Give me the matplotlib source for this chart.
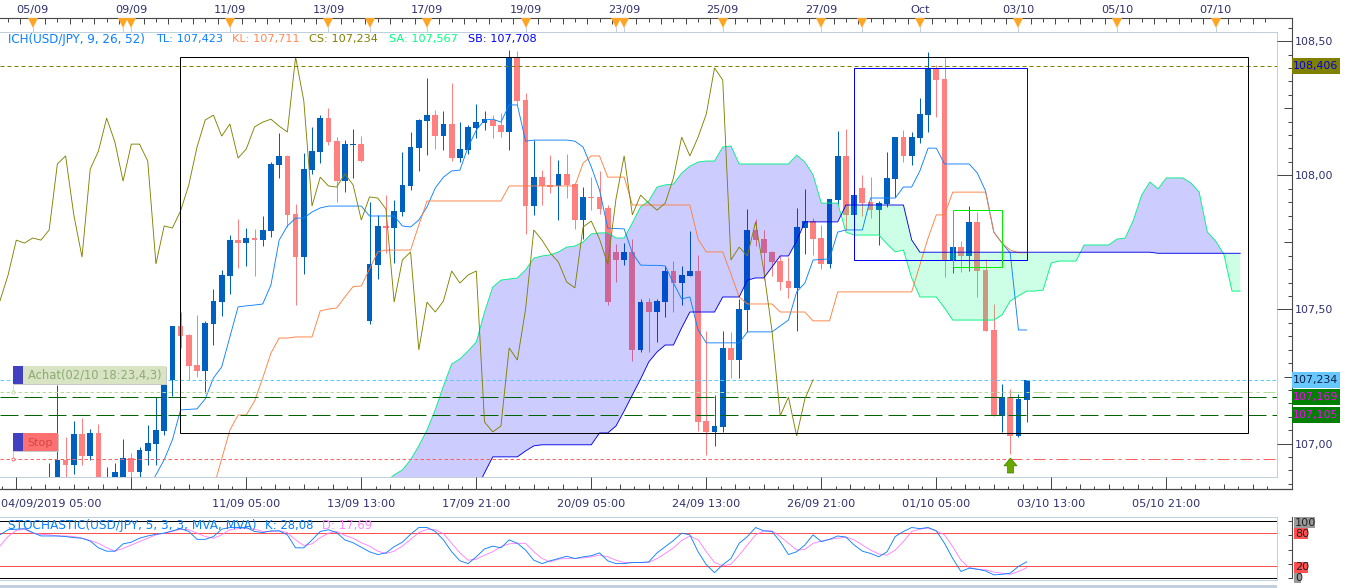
import numpy as np
import matplotlib
matplotlib.use("Agg")
import matplotlib.pyplot as plt
from matplotlib.patches import Rectangle

# ---- candles: one value per 4h bar, first bar index = FIRST_BAR
FIRST_BAR = -24
RISING = ("bbpbpbpbbb" "pbbbbbpppb" "bbbpbpbbbp" "pbbbppbbpb"
          "bpbbbbbpbp" "bbbbppbppb" "ppbppbpppp" "bpbpbbpbbp"
          "pbbpbbpppp" "pbbppbbpbp" "pbbbpbbbpp" "bpbpppbpbb")
HIGH = [106.927,107.218,107.024,107.084,107.095,107.054,107.073,106.912,106.927,107.017,
        106.965,106.987,107.069,107.173,107.230,107.438,107.490,107.408,107.479,107.457,
        107.576,107.647,107.777,107.837,107.803,107.800,107.848,108.049,108.157,108.075,
        107.893,108.083,108.180,108.224,108.250,108.142,108.131,108.172,108.146,107.900,
        107.852,107.926,107.907,108.087,108.161,108.209,108.362,108.243,108.239,108.344,
        108.198,108.187,108.265,108.239,108.224,108.232,108.467,108.463,108.306,108.131,
        108.019,108.075,108.057,108.079,107.971,107.956,107.993,108.016,107.889,107.744,
        107.747,107.762,107.539,107.542,107.539,107.662,107.680,107.662,107.792,107.703,
        107.419,107.181,107.419,107.416,107.539,107.874,107.837,107.796,107.718,107.703,
        107.695,107.878,107.949,107.840,107.814,107.911,108.165,108.172,107.960,108.001,
        107.993,107.904,108.087,108.142,108.168,108.161,108.288,108.459,108.411,108.441,
        107.773,107.755,107.885,107.863,107.688,107.520,107.222,107.203,107.185,107.237]
BODY_TOP = [106.87,106.939,106.939,107.035,107.035,107.039,107.039,106.86,106.894,106.946,
        106.946,106.976,107.002,107.050,107.226,107.438,107.438,107.404,107.293,107.449,
        107.531,107.628,107.758,107.758,107.766,107.766,107.796,108.042,108.072,108.072,
        107.855,108.023,108.090,108.213,108.213,108.127,108.116,108.116,108.116,107.669,
        107.811,107.811,107.867,107.964,108.105,108.206,108.224,108.224,108.191,108.191,
        108.098,108.180,108.198,108.209,108.206,108.187,108.441,108.441,108.280,107.993,
        107.993,107.964,108.005,108.005,107.967,107.919,107.919,107.919,107.878,107.714,
        107.714,107.714,107.527,107.527,107.531,107.643,107.643,107.628,107.643,107.643,
        107.084,107.065,107.356,107.356,107.501,107.796,107.796,107.762,107.714,107.680,
        107.606,107.807,107.829,107.829,107.766,107.911,108.072,108.072,107.926,107.952,
        107.900,107.896,107.990,108.142,108.142,108.142,108.228,108.400,108.400,108.359,
        107.732,107.732,107.826,107.826,107.647,107.423,107.173,107.173,107.166,107.237]
BODY_BOTTOM = [106.86,106.80,106.920,106.920,106.953,106.953,106.80,106.82,106.84,106.84,
        106.894,106.894,106.972,106.998,107.047,107.237,107.401,107.289,107.270,107.270,
        107.445,107.527,107.624,107.747,107.747,107.758,107.758,107.792,108.038,107.852,
        107.695,107.695,108.019,108.087,108.124,107.978,107.978,108.113,108.053,107.457,
        107.665,107.803,107.803,107.863,107.960,108.101,108.202,108.146,108.146,108.064,
        108.064,108.094,108.176,108.195,108.183,108.161,108.161,108.277,107.885,107.885,
        107.960,107.956,107.960,107.964,107.833,107.833,107.915,107.874,107.527,107.684,
        107.684,107.349,107.349,107.490,107.490,107.527,107.598,107.598,107.624,107.080,
        107.043,107.043,107.062,107.311,107.311,107.498,107.758,107.710,107.676,107.602,
        107.580,107.580,107.803,107.762,107.669,107.669,107.907,107.852,107.852,107.896,
        107.870,107.870,107.893,107.986,108.072,108.072,108.139,108.224,108.355,107.684,
        107.684,107.699,107.699,107.643,107.419,107.103,107.103,107.028,107.028,107.162]
LOW = [106.85,106.78,106.87,106.886,106.920,106.939,106.78,106.80,106.82,106.82,
        106.87,106.87,106.920,106.920,107.032,107.177,107.356,107.237,107.248,107.188,
        107.367,107.475,107.557,107.654,107.662,107.624,107.736,107.770,107.990,107.807,
        107.516,107.632,108.005,108.045,108.113,107.900,107.937,107.990,108.049,107.445,
        107.613,107.710,107.673,107.848,107.945,108.016,108.075,108.098,108.094,108.053,
        108.049,108.079,108.139,108.168,108.139,108.142,108.094,108.262,107.781,107.852,
        107.889,107.934,107.833,107.915,107.800,107.762,107.870,107.855,107.516,107.602,
        107.665,107.308,107.341,107.341,107.378,107.472,107.490,107.516,107.624,107.047,
        106.957,106.991,107.043,107.244,107.244,107.416,107.736,107.609,107.624,107.572,
        107.542,107.419,107.706,107.703,107.650,107.654,107.893,107.796,107.770,107.848,
        107.840,107.740,107.882,107.919,108.049,108.038,108.120,108.161,108.217,107.621,
        107.636,107.639,107.643,107.546,107.419,107.103,107.043,106.961,107.024,107.080]

# ---- ichimoku
TL_FIRST = -12
TENKAN = [106.827,106.883,106.939,107.013,107.125,107.127,107.129,107.166,107.244,107.285,
          107.397,107.509,107.513,107.516,107.520,107.591,107.758,107.811,107.840,107.840,
          107.863,107.878,107.885,107.885,107.885,107.885,107.885,107.848,107.848,107.848,
          107.848,107.811,107.807,107.833,107.882,107.952,107.993,108.016,108.019,108.105,
          108.168,108.206,108.209,108.198,108.262,108.262,108.127,108.131,108.131,108.131,
          108.131,108.131,108.127,108.105,108.031,107.945,107.803,107.801,107.800,107.710,
          107.665,107.664,107.664,107.662,107.598,107.539,107.546,107.423,107.375,107.375,
          107.375,107.375,107.375,107.416,107.416,107.416,107.416,107.438,107.460,107.565,
          107.598,107.684,107.686,107.688,107.788,107.796,107.796,107.796,107.915,107.915,
          107.915,107.915,107.956,107.956,108.016,108.101,108.101,108.042,108.042,108.042,
          108.042,108.008,107.941,107.788,107.747,107.710,107.423,107.423]
KL_FIRST = -4
KIJUN = [106.834,106.942,107.050,107.106,107.106,107.158,107.244,107.337,107.393,107.393,
         107.397,107.397,107.397,107.494,107.501,107.505,107.546,107.585,107.587,107.650,
         107.714,107.721,107.721,107.721,107.721,107.814] + [107.904] * 10 + [107.960] * 9 + [
         108.045,108.072,108.072,107.993,107.993,107.993] + [107.889] * 8 + [
         107.762,107.714,107.714,107.714,107.632,107.546,107.520,107.520,107.520,107.520,
         107.490,107.490,107.490,107.490,107.457,107.457,107.457] + [107.565] * 10 + [
         107.665,107.766,107.852,107.852,107.937,107.937,107.937,107.937,107.937,
         107.788,107.747,107.721,107.711,107.711]
KUMO_FIRST = 17
SENKOU_A = [106.857,106.883,106.901,106.939,106.991,107.050,107.125,107.214,107.296,107.315,
            107.345,107.378,107.490,107.583,107.609,107.613,107.617,107.647,107.691,107.699,
            107.703,107.714,107.732,107.736,107.751,107.781,107.785,107.785,107.766,107.766,
            107.822,107.882,107.904,107.956,107.964,107.967,108.008,108.034,108.049,108.053,
            108.053,108.105,108.109,108.042,108.042,108.042,108.042,108.042,108.042,108.042,
            108.075,108.049,108.001,107.896,107.896,107.896,107.788,107.777,107.777,107.777,
            107.777,107.744,107.714,107.721,107.617,107.546,107.546,107.546,107.505,107.460,
            107.460,107.460,107.460,107.460,107.460,107.479,107.531,107.550,107.568,107.568,
            107.572,107.673,107.680,107.680,107.680,107.740,107.740,107.740,107.740,107.762,
            107.766,107.833,107.926,107.975,107.949,107.990,107.990,107.990,107.971,107.937,
            107.788,107.755,107.706,107.568,107.568]
SENKOU_B = [106.80] * 11 + [106.827,106.890,106.950,106.950,106.950,106.950,106.972,106.991] + [
            106.995] * 7 + [107.039,107.039,107.065,107.121,107.181,107.240,107.304,107.341,
            107.367,107.367,107.431,107.490,107.490,107.490,107.490,107.546,107.546,107.546,
            107.609,107.617,107.617,107.658,107.699,107.699,107.755] + [107.826] * 5 + [
            107.889] * 8 + [107.759] + [107.713] * 29 + [107.709] * 11
CHIKOU_SHIFT = 26

# ---- stochastic
STOCH_FIRST = -30
STOCH_K = [76,85,86,87,80,74,74,74,73,71,70,65,53,47,47,60,63,70,74,77,79,83,87,82,68,
           68,73,86,89,89,89,82,80,83,83,76,53,53,67,82,85,80,67,62,54,46,41,44,55,63,77,89,89,82,67,
           46,30,25,37,51,56,53,67,61,49,31,25,30,34,38,34,37,39,44,30,25,25,27,27,28,
           44,55,66,79,76,46,23,9,23,34,61,73,89,83,82,64,41,46,58,76,64,68,74,72,58,47,43,37,46,73,
           82,89,87,89,83,61,34,11,17,15,12,5,6,8,20,28.08]
STOCH_D = [56,73,84,86,79,77,76,74,74,73,70,66,61,53,47,52,58,64,70,76,79,82,86,85,79,
           73,70,76,85,87,87,86,82,82,83,80,67,57,60,71,79,82,75,70,62,56,47,43,47,56,68,80,86,85,78,
           61,44,31,33,40,46,55,60,61,61,46,34,28,33,34,34,35,37,40,37,31,27,27,27,27,
           34,43,53,66,74,67,46,27,21,24,40,58,76,83,83,73,61,49,50,61,65,68,70,72,67,58,49,42,40,49,
           64,82,86,88,83,76,55,31,18,15,14,10,8,6,11,17.69]

# ---- levels and annotations
LEVEL_OLIVE = 108.406
LEVEL_CYAN = 107.237
LEVEL_ACHAT = 107.191
LEVEL_GREEN = [107.172, 107.105]
LEVEL_STOP = 106.941
ORDER_BAR = 93
ARROW_PRICE = 106.918
BOX_BLACK = (-8.12, 122, 107.038, 108.439)
BOX_BLUE = (74, 95, 107.683, 108.398)
BOX_GREEN = (86, 92, 107.659, 107.869)
EVENT_BARS = [-26, -15, -14, -2, 10, 15, 22, 34, 45, 46, 58, 70, 75, 82, 94, 106, 118]
TOP_TICK_BARS = [-26, -14, -2, 10, 22, 34, 46, 58, 70, 82, 94, 106, 118]
TOP_LABELS = ["05/09", "09/09", "11/09", "13/09", "17/09", "19/09", "23/09", "25/09",
              "27/09", "Oct", "03/10", "05/10", "07/10"]
BOTTOM_TICK_BARS = [-28, -14, 0, 14, 28, 42, 56, 70, 84, 98, 112]
BOTTOM_LABELS = ["", "", "11/09 05:00", "13/09 13:00", "17/09 21:00", "20/09 05:00",
                 "24/09 13:00", "26/09 21:00", "01/10 05:00", "03/10 13:00", "05/10 21:00"]
PRICE_TICKS = [107.0, 107.5, 108.0, 108.5]
PRICE_LABELS = ["107,00", "107,50", "108,00", "108,50"]

# ---- colours
C_UP, C_DOWN = "#0060c0", "#ff8080"
C_TL, C_KL, C_CS, C_SA, C_SB = "#0a80ff", "#ff7f3f", "#808000", "#00f080", "#0000e6"
C_GREY, C_AXIS, C_TEXT = "#c2cfdc", "#484848", "#30306e"
FS = 8.15

W, H = 1349, 588
plt.rcParams["font.family"] = ["DejaVu Sans"]
fig = plt.figure(figsize=(W / 100, H / 100), dpi=100, facecolor="white")


def area(x0, y0, x1, y1):
    return [x0 / W, 1 - y1 / H, (x1 - x0) / W, (y1 - y0) / H]


XLIM = (-29.985, 125.44)
LINE = dict(lw=0.64, solid_joinstyle="miter")

# ---------------- main panel
ax = fig.add_axes(area(0, 32, 1276.7, 476.7))
ax.set_xlim(*XLIM)
ax.set_ylim(106.876, 108.534)
ax.set_xticks([])
ax.set_yticks([])
ax.spines["left"].set_visible(False)
for s in ("top", "right", "bottom"):
    ax.spines[s].set_color(C_GREY)
    ax.spines[s].set_linewidth(0.72)

bars = FIRST_BAR + np.arange(len(HIGH))
high, low = np.array(HIGH), np.array(LOW)
top, bottom = np.array(BODY_TOP), np.array(BODY_BOTTOM)
rising = np.array([c == "b" for c in RISING])
colors = np.where(rising, C_UP, C_DOWN)
ax.vlines(bars, low, high, colors=colors, lw=0.72, zorder=2)
ax.bar(bars, top - bottom, bottom=bottom, width=0.70, color=colors, lw=0, zorder=2.1)

kumo_x = KUMO_FIRST + np.arange(len(SENKOU_A))
sa, sb = np.array(SENKOU_A), np.array(SENKOU_B)
ax.fill_between(kumo_x, sa, sb, where=sa >= sb, interpolate=True, facecolor=(0, 0, 1, 0.2),
                lw=0, zorder=3)
ax.fill_between(kumo_x, sa, sb, where=sa <= sb, interpolate=True, facecolor=(0, 1, 0.5, 0.2),
                lw=0, zorder=3)
ax.plot(kumo_x, sa, color=C_SA, zorder=4, **LINE)
ax.plot(TL_FIRST + np.arange(len(TENKAN)), TENKAN, color=C_TL, zorder=5, **LINE)
ax.plot(KL_FIRST + np.arange(len(KIJUN)), KIJUN, color=C_KL, zorder=5, **LINE)
ax.plot(kumo_x, sb, color=C_SB, zorder=5.2, **LINE)
close = np.where(rising, top, bottom)
ax.plot(bars - CHIKOU_SHIFT, close, color=C_CS, zorder=5.1, **LINE)

DASH = dict(lw=0.72, zorder=5)
ax.axhline(LEVEL_OLIVE, color=C_CS, ls=(0, (4, 3)), **DASH)
ax.axhline(LEVEL_CYAN, color="#55ccff", ls=(0, (3.5, 2.5)), **DASH)
for lv in LEVEL_GREEN:
    ax.axhline(lv, color="#006400", ls=(0, (18, 6)), **DASH)
for lv, col in ((LEVEL_ACHAT, "#b4dc96"), (LEVEL_STOP, "#ff6060")):
    ax.plot([XLIM[0], ORDER_BAR], [lv, lv], color=col, ls=(0, (3.5, 2.5)), **DASH)
    ax.plot([ORDER_BAR, XLIM[1]], [lv, lv], color=col, ls=(0, (12, 4, 3, 4)), **DASH)

for (x0, x1, y0, y1), col in ((BOX_BLACK, "black"), (BOX_BLUE, "#0000ff"), (BOX_GREEN, "#00ee00")):
    ax.add_patch(Rectangle((x0, y0), x1 - x0, y1 - y0, fill=False, ec=col, lw=0.72, zorder=6))

arrow = [(-.4, -1), (.4, -1), (.4, -.05), (.87, -.05), (0, 1), (-.87, -.05), (-.4, -.05), (-.4, -1)]
ax.plot([ORDER_BAR], [ARROW_PRICE], marker=arrow, ms=10.8, mfc="#68a800", mec="#3f8000",
        mew=0.5, ls="none", zorder=7)

# ---------------- bottom time axis
axb = fig.add_axes(area(0, 476.7, 1291.5, 489))
axb.set_xlim(XLIM[0], XLIM[0] + (XLIM[1] - XLIM[0]) * 1291.5 / 1276.7)
axb.set_ylim(0, 1)
axb.patch.set_alpha(0)
for s in ("top", "left", "right", "bottom"):
    axb.spines[s].set_visible(False)
axb.set_yticks([])
axb.set_xticks(BOTTOM_TICK_BARS)
axb.set_xticklabels(BOTTOM_LABELS, fontsize=FS, color=C_TEXT)
axb.set_xticks(np.arange(-29.75, 125.5, 1.75), minor=True)
axb.tick_params(axis="x", which="major", direction="in", length=8.9, width=0.72, color=C_AXIS, pad=7.4)
axb.tick_params(axis="x", which="minor", direction="in", length=2.4, width=0.72, color=C_AXIS)
axb.vlines(np.arange(-28, 125, 3.5), 0, 0.42, color=C_AXIS, lw=0.72)
axb.text(-29.85, -1.2, "04/09/2019 05:00", fontsize=FS, color=C_TEXT, ha="left", va="center",
         clip_on=False)

# ---------------- top time axis
axt = fig.add_axes(area(0, 18.3, 1291.5, 32))
axt.set_xlim(XLIM[0], XLIM[0] + (XLIM[1] - XLIM[0]) * 1291.5 / 1276.7)
axt.set_ylim(0, 1)
axt.patch.set_alpha(0)
for s in ("bottom", "left", "right"):
    axt.spines[s].set_visible(False)
axt.spines["top"].set_color(C_AXIS)
axt.spines["top"].set_linewidth(0.8)
axt.set_yticks([])
axt.xaxis.tick_top()
axt.set_xticks(TOP_TICK_BARS)
axt.set_xticklabels(TOP_LABELS, fontsize=FS, color=C_TEXT)
axt.tick_params(axis="x", which="major", length=0, pad=2.5)
minor_top = np.arange(-29, 125.5, 1.5)
axt.vlines(minor_top, 0.76, 1, color=C_AXIS, lw=0.72)
axt.vlines(minor_top[1::2], 0.62, 1, color=C_AXIS, lw=0.72)
axt.vlines(EVENT_BARS, 0, 0.4, color=C_GREY, lw=0.72)
axt.plot(EVENT_BARS, [0.68] * len(EVENT_BARS), ls="none", marker="v", ms=7.4, mfc="#ffa526",
         mec="#ffa526", mew=0, zorder=4, clip_on=False)

# ---------------- price axis
axr = fig.add_axes(area(1276.7, 18.3, 1291.7, 489))
axr.set_ylim(106.831, 108.585)
axr.set_xlim(0, 1)
axr.patch.set_alpha(0)
for s in ("top", "bottom", "left"):
    axr.spines[s].set_visible(False)
axr.spines["right"].set_color(C_AXIS)
axr.spines["right"].set_linewidth(0.8)
axr.set_xticks([])
axr.yaxis.tick_right()
axr.set_yticks(PRICE_TICKS)
axr.set_yticklabels(PRICE_LABELS, fontsize=7.9, color=C_TEXT)
axr.set_yticks(np.arange(106.85, 108.56, 0.05), minor=True)
axr.tick_params(axis="y", which="major", direction="in", length=10.8, width=0.72, color=C_AXIS, pad=2)
axr.tick_params(axis="y", which="minor", direction="in", length=3, width=0.72, color=C_AXIS)
axr.hlines([107.25, 107.75, 108.25], 0.5, 1, color=C_AXIS, lw=0.72)

# ---------------- stochastic panel
axs = fig.add_axes(area(0, 517.3, 1276.7, 580))
axs.set_xlim(*XLIM)
axs.set_ylim(-4.08, 107.1)
axs.set_xticks([])
axs.set_yticks([])
axs.spines["left"].set_visible(False)
for s in ("top", "right", "bottom"):
    axs.spines[s].set_color(C_GREY)
    axs.spines[s].set_linewidth(0.72)
axs.axhline(100, color="black", lw=0.72)
axs.axhline(0, color="black", lw=0.72)
axs.axhline(80, color="#ff5050", lw=0.72)
axs.axhline(20, color="#ff5050", lw=0.72)
stoch_x = STOCH_FIRST + np.arange(len(STOCH_K))
axs.plot(stoch_x, STOCH_D, color="#ff80ff", zorder=3, **LINE)
axs.plot(stoch_x, STOCH_K, color=C_TL, zorder=4, **LINE)

axsr = fig.add_axes(area(1276.7, 517.3, 1291.7, 580))
axsr.set_ylim(-4.08, 107.1)
axsr.set_xlim(0, 1)
axsr.patch.set_alpha(0)
for s in ("top", "bottom", "left"):
    axsr.spines[s].set_visible(False)
axsr.spines["right"].set_color(C_AXIS)
axsr.spines["right"].set_linewidth(0.8)
axsr.spines["right"].set_bounds(-1, 107)
axsr.set_xticks([])
axsr.yaxis.tick_right()
axsr.set_yticks([0, 25, 50, 75, 100])
axsr.set_yticklabels([])
axsr.tick_params(axis="y", direction="in", length=3, width=0.72, color=C_AXIS)

# ---------------- texts and tags in pixel space
ch = fig.add_axes([0, 0, 1, 1], zorder=20)
ch.set_xlim(0, W)
ch.set_ylim(H, 0)
ch.axis("off")

ch.plot([0, 1291.5], [489.4, 489.4], color=C_AXIS, lw=0.9)
ch.add_patch(Rectangle((0, 585), 1276.7, 2.5, fc=C_GREY, ec="none"))


def put(x, y, s, col, **kw):
    ch.text(x, y, s, color=col, fontsize=kw.pop("fs", FS), va="center", **kw)


y_leg = 39.3
put(8, y_leg, "ICH(USD/JPY, 9, 26, 52)", C_TL, fs=8.6)
for x, s, c in ((156, "TL: 107,423", C_TL),
                (232, "KL: 107,711", "#ff8855"), (309, "CS: 107,234", C_CS),
                (389, "SA: 107,567", "#00ff80"), (468, "SB: 107,708", "#0000ff")):
    put(x, y_leg, s, c)
put(8, 525, "STOCHASTIC(USD/JPY, 5, 3, 3, MVA, MVA)", C_TL, fs=8.7)
put(265, 525, "K: 28,08", C_TL, fs=8.4)
put(322, 525, "D: 17,69", "#ff88ff", fs=8.4)


def tag(price, s, bg, fg):
    _, ypix = axr.transData.transform((1, price))
    y = H - ypix
    ch.add_patch(Rectangle((1291.7, y - 8), 48.3, 16, fc=bg, ec="none"))
    put(1293, y, s, fg, fs=7.9)


tag(LEVEL_OLIVE, "108,406", "#808000", "#0000e0")
tag(LEVEL_CYAN, "107,234", "#66c8ff", "#102040")
tag(LEVEL_GREEN[0], "107,169", "#008000", "#ff00ff")
tag(LEVEL_GREEN[1], "107,105", "#008000", "#ff00ff")

for y0, y1, x1, s, bg in ((516.7, 528.3, 1315, "100", "#999999"), (528.3, 539.3, 1308, "80", "#ff5050"),
                          (561.7, 572.7, 1308, "20", "#ff5050"), (572.7, 582.7, 1301, "0", "#999999")):
    ch.add_patch(Rectangle((1294.3, y0), x1 - 1294.3, y1 - y0, fc=bg, ec="none"))
    put(1295, (y0 + y1) / 2, s, "#202020")

# order labels
ch.plot([13, 13], [384, 392], color="#d8e4c0", lw=0.72)
ch.plot([13], [392], marker="o", ms=2.2, mfc="white", mec="#b4dc96", mew=0.6)
ch.add_patch(Rectangle((14, 367), 153, 18, fc="#c8c8c8", ec="none"))
ch.add_patch(Rectangle((13, 366), 153, 18, fc="#d8e4c4", ec="none"))
ch.add_patch(Rectangle((13, 366), 10, 18, fc="#4040c0", ec="none"))
put(28, 374.6, "Achat(02/10 18:23,4,3)", "#8cab74", fs=8.3)
ch.plot([13, 13], [451, 459], color="#ffb0b0", lw=0.72)
ch.plot([13], [459], marker="o", ms=2.2, mfc="white", mec="#ff6060", mew=0.6)
ch.add_patch(Rectangle((14, 434), 45, 18, fc="#c8c8c8", ec="none"))
ch.add_patch(Rectangle((13, 433), 45, 18, fc="#ff7070", ec="none"))
ch.add_patch(Rectangle((13, 433), 10, 18, fc="#4040c0", ec="none"))
put(27.7, 443, "Stop", "#d04848", fs=8.1)

fig.savefig("out.png", dpi=100)
